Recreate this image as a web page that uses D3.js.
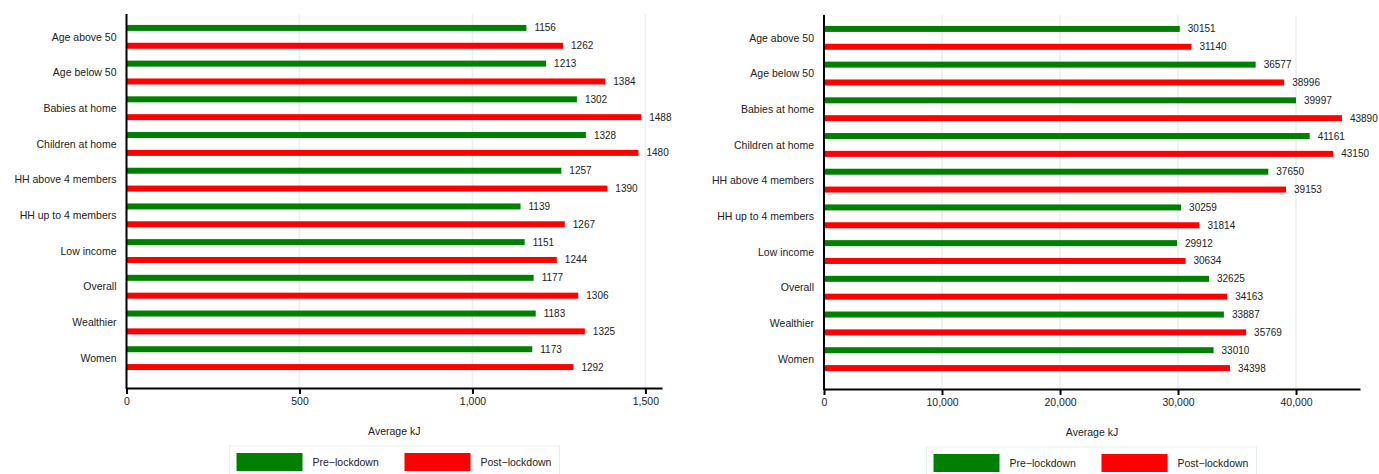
<!DOCTYPE html>
<html>
<head>
<meta charset="utf-8">
<script src="https://cdn.jsdelivr.net/npm/d3@7"></script>
<style>
  body { margin: 0; background: #fff; }
  text { font-family: "Liberation Sans", Arial, sans-serif; fill: #222; }
</style>
</head>
<body>
<div id="chart"></div>
<script>
// Data
const categories = ['Age above 50', 'Age below 50', 'Babies at home', 'Children at home',
                    'HH above 4 members', 'HH up to 4 members', 'Low income', 'Overall',
                    'Wealthier', 'Women'];
const seriesNames = ['Pre\u2212lockdown', 'Post\u2212lockdown'];
const seriesColors = ['#008000', '#ff0000'];

const leftPre  = [1156, 1213, 1302, 1328, 1257, 1139, 1151, 1177, 1183, 1173];
const leftPost = [1262, 1384, 1488, 1480, 1390, 1267, 1244, 1306, 1325, 1292];
const leftTicks = [0, 500, 1000, 1500];

const rightPre  = [30151, 36577, 39997, 41161, 37650, 30259, 29912, 32625, 33887, 33010];
const rightPost = [31140, 38996, 43890, 43150, 39153, 31814, 30634, 34163, 35769, 34398];
const rightTicks = [0, 10000, 20000, 30000, 40000];

const svg = d3.select('#chart')
    .append('svg')
    .attr('width', 1379)
    .attr('height', 474);

// Draw one panel
const drawPanel = (opts) => {
    const { left, top, width, height, pre, post, ticks, xMax } = opts;
    const g = svg.append('g').attr('transform', `translate(${left}, ${top})`);

    const xScale = d3.scaleLinear().domain([0, xMax]).range([0, width]);
    const yScale = d3.scaleBand().domain(categories).range([5, height - 12]);
    const subScale = d3.scaleBand().domain([0, 1]).range([0, yScale.bandwidth()]);
    const barH = 6;

    // Grid lines
    g.selectAll('.grid')
        .data(ticks.filter(t => t > 0))
        .enter().append('line')
        .attr('x1', d => xScale(d))
        .attr('x2', d => xScale(d))
        .attr('y1', 0)
        .attr('y2', height)
        .attr('stroke', '#e9eff2')
        .attr('stroke-width', 1.5);

    // Bars
    const rows = [];
    categories.forEach((c, i) => {
        rows.push({ cat: c, s: 0, v: pre[i] });
        rows.push({ cat: c, s: 1, v: post[i] });
    });
    const yc = d => yScale(d.cat) + subScale(d.s) + subScale.bandwidth() / 2;

    g.selectAll('rect.bar')
        .data(rows)
        .enter().append('rect')
        .attr('class', 'bar')
        .attr('x', 0)
        .attr('y', d => yc(d) - barH / 2)
        .attr('width', d => xScale(d.v))
        .attr('height', barH)
        .attr('fill', d => seriesColors[d.s]);

    g.selectAll('text.val')
        .data(rows)
        .enter().append('text')
        .attr('class', 'val')
        .attr('x', d => xScale(d.v) + 8)
        .attr('y', d => yc(d))
        .attr('dy', '0.35em')
        .attr('font-size', 10)
        .text(d => d.v);

    // Category labels
    g.selectAll('text.cat')
        .data(categories)
        .enter().append('text')
        .attr('class', 'cat')
        .attr('x', -10)
        .attr('y', d => yScale(d) + yScale.bandwidth() / 2)
        .attr('dy', '0.35em')
        .attr('text-anchor', 'end')
        .attr('font-size', 10.5)
        .text(d => d);

    // X axis
    const xAxis = g.append('g')
        .attr('transform', `translate(0, ${height})`)
        .call(d3.axisBottom(xScale)
            .tickValues(ticks)
            .tickFormat(d3.format(','))
            .tickSize(6)
            .tickSizeOuter(0)
            .tickPadding(4));
    xAxis.select('.domain').attr('stroke', '#000').attr('stroke-width', 2);
    xAxis.selectAll('.tick line').attr('stroke', '#000').attr('stroke-width', 2);
    xAxis.selectAll('.tick text')
        .attr('font-size', 10.5)
        .attr('font-family', '"Liberation Sans", Arial, sans-serif')
        .attr('fill', '#222');

    // Y axis line
    g.append('line')
        .attr('x1', 0).attr('x2', 0)
        .attr('y1', 0).attr('y2', height + 1)
        .attr('stroke', '#000')
        .attr('stroke-width', 2);

    // Axis name
    g.append('text')
        .attr('x', width / 2)
        .attr('y', height + 43)
        .attr('dy', '0.35em')
        .attr('text-anchor', 'middle')
        .attr('font-size', 10.5)
        .text('Average kJ');

    // Legend
    const lg = svg.append('g')
        .attr('transform', `translate(${opts.legendX}, ${top + height + 58})`);
    lg.append('rect')
        .attr('x', 0).attr('y', 0)
        .attr('width', 330).attr('height', 40)
        .attr('fill', 'none')
        .attr('stroke', '#e6eef0')
        .attr('stroke-width', 1);
    seriesNames.forEach((name, i) => {
        lg.append('rect')
            .attr('x', 7 + i * 168).attr('y', 7)
            .attr('width', 66).attr('height', 18)
            .attr('fill', seriesColors[i]);
        lg.append('text')
            .attr('x', 83 + i * 168).attr('y', 16.5)
            .attr('dy', '0.35em')
            .attr('font-size', 10.5)
            .text(name);
    });
};

drawPanel({ left: 126.5, top: 14, width: 535.5, height: 374,
            pre: leftPre, post: leftPost, ticks: leftTicks, xMax: 1548, legendX: 229.5 });
drawPanel({ left: 824, top: 15, width: 536, height: 374,
            pre: rightPre, post: rightPost, ticks: rightTicks, xMax: 45420, legendX: 926.5 });
</script>
</body>
</html>
